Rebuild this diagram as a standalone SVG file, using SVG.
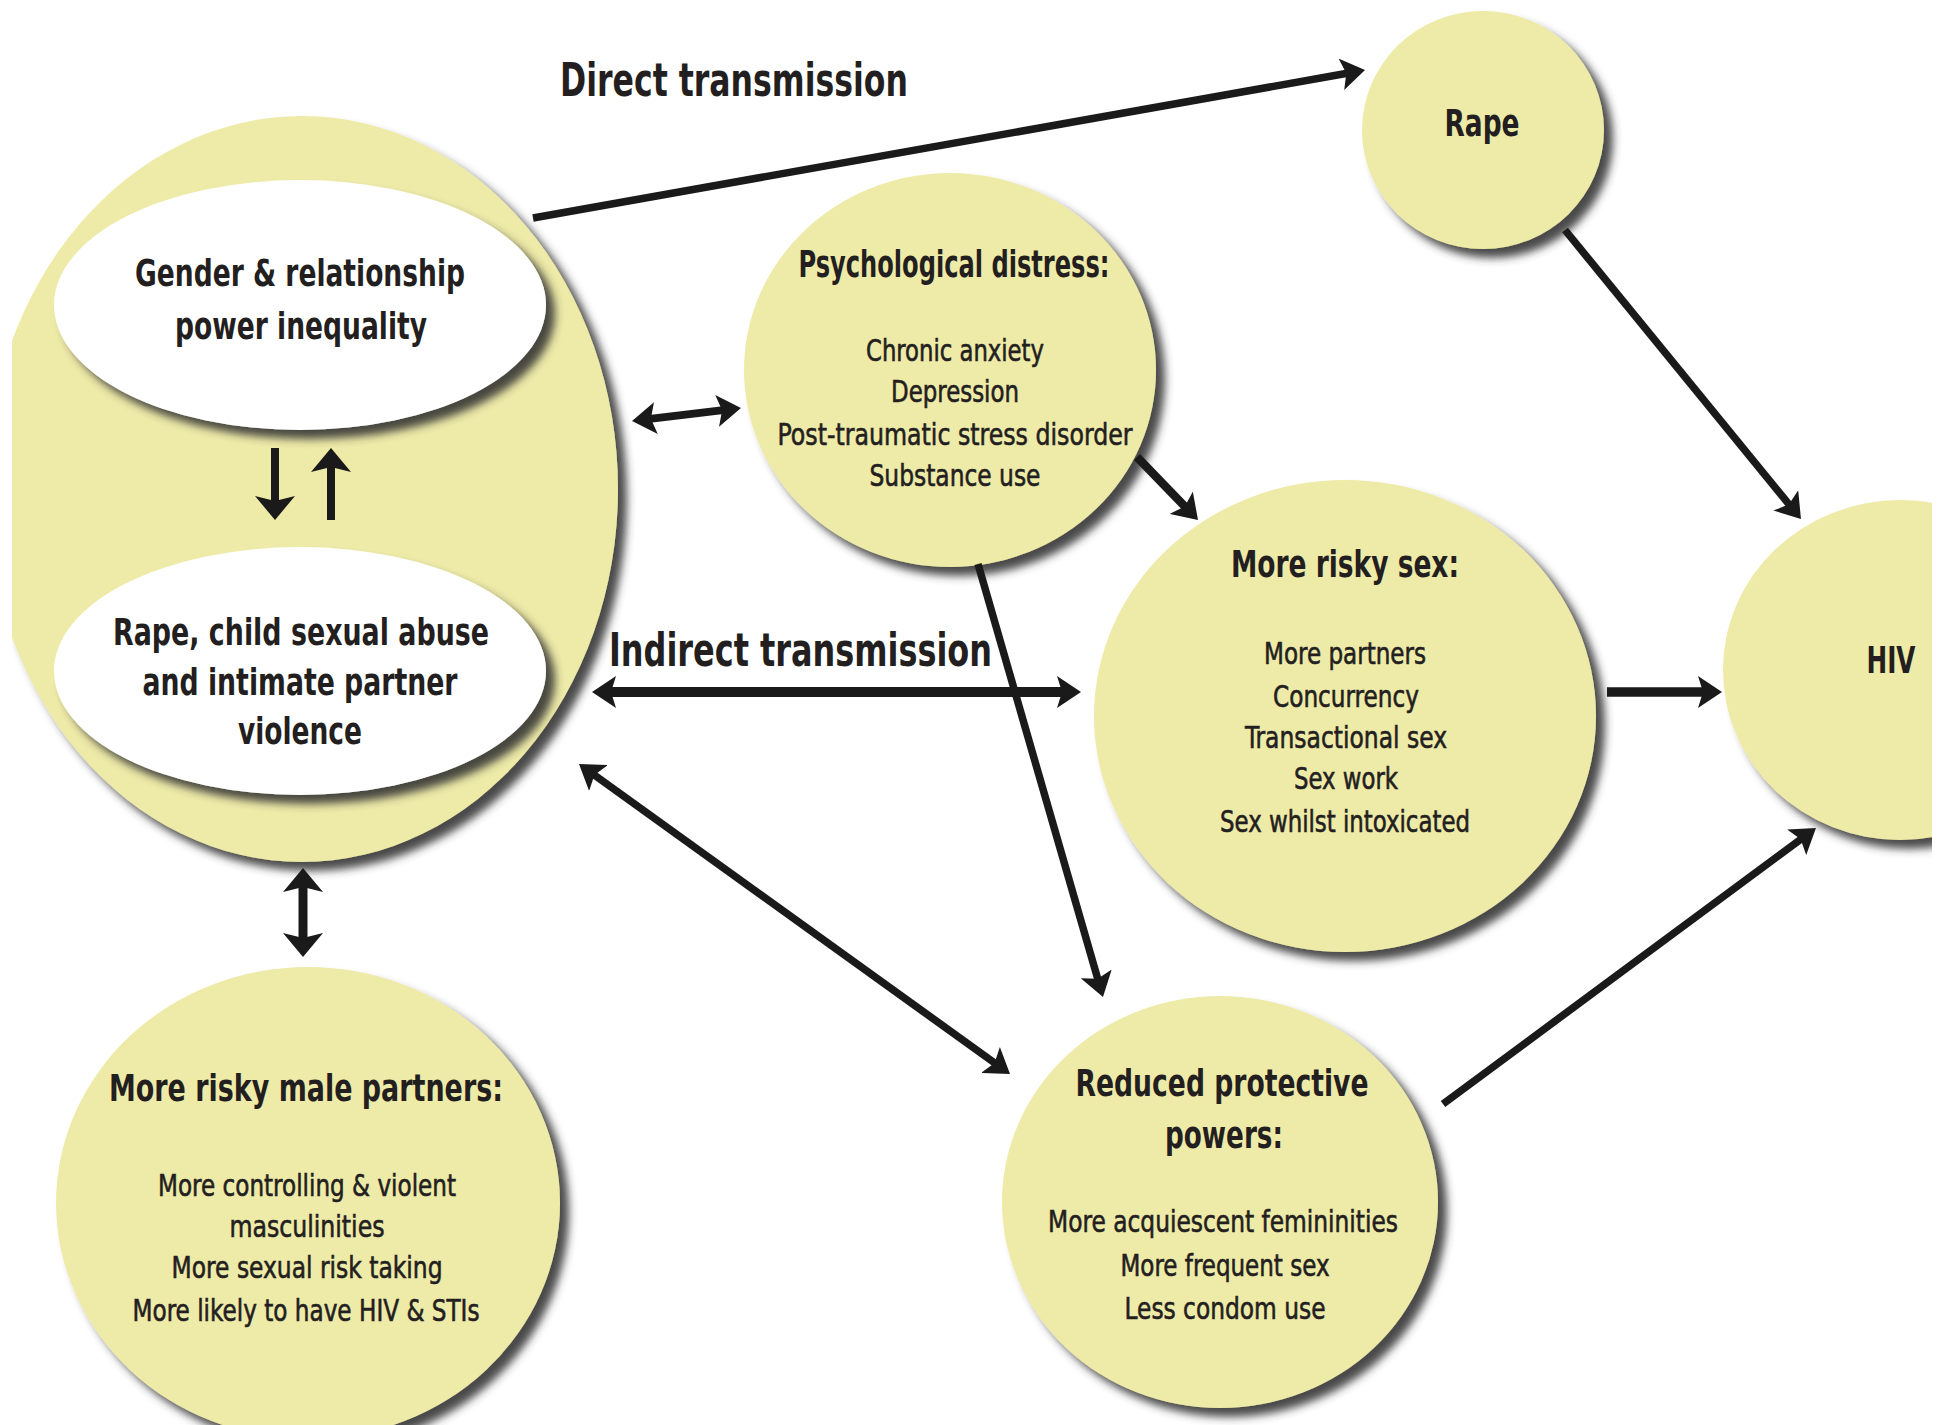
<svg xmlns="http://www.w3.org/2000/svg" width="1941" height="1425" viewBox="0 0 1941 1425">
<style>
.y{fill:#eeeaa8}
.w{fill:#ffffff}
.h{font-family:"Liberation Sans Narrow","DejaVu Sans Condensed","Liberation Sans",sans-serif;font-weight:bold;font-size:38px;fill:#231f20;text-anchor:middle}
.b{font-family:"Liberation Sans Narrow","DejaVu Sans Condensed","Liberation Sans",sans-serif;font-weight:normal;font-size:31px;fill:#231f20;stroke:#231f20;stroke-width:0.6;text-anchor:middle}
.t{font-family:"Liberation Sans Narrow","DejaVu Sans Condensed","Liberation Sans",sans-serif;font-weight:bold;font-size:46px;fill:#231f20}
.c{fill:none;stroke:#1a1a1a;stroke-width:7.5}
</style>
<defs>
<filter id="sh" x="-10%" y="-10%" width="125%" height="125%">
<feGaussianBlur in="SourceAlpha" stdDeviation="4"/>
<feOffset dx="9" dy="9" result="o"/>
<feFlood flood-color="#333333" flood-opacity="0.88"/>
<feComposite in2="o" operator="in"/>
<feMerge><feMergeNode/><feMergeNode in="SourceGraphic"/></feMerge>
</filter>
<clipPath id="clipL"><rect x="12" y="0" width="1000" height="1000"/></clipPath>
<clipPath id="clipR"><rect x="1600" y="300" width="332" height="700"/></clipPath>
<marker id="ah" markerUnits="userSpaceOnUse" viewBox="0 0 24 32" markerWidth="24" markerHeight="32" refX="6" refY="16" orient="auto-start-reverse">
<path d="M0,0 L24,16 L0,32 L5,16 z" fill="#1a1a1a"/>
</marker>
<marker id="ahw" markerUnits="userSpaceOnUse" viewBox="0 0 24 40" markerWidth="24" markerHeight="40" refX="6" refY="20" orient="auto-start-reverse">
<path d="M0,0 L24,20 L0,40 L5,20 z" fill="#1a1a1a"/>
</marker>
</defs>
<rect width="1941" height="1425" fill="#ffffff"/>

<g id="node-violence-context">
<g clip-path="url(#clipL)"><ellipse class="y" cx="302" cy="489" rx="316" ry="373" filter="url(#sh)"/></g>
<g id="node-gender">
<ellipse class="w" cx="300" cy="305" rx="246" ry="125" filter="url(#sh)"/>
<text class="h" x="300" y="286" textLength="330" lengthAdjust="spacingAndGlyphs">Gender &amp; relationship</text>
<text class="h" x="301" y="339" textLength="252" lengthAdjust="spacingAndGlyphs">power inequality</text>
</g>
<g id="node-rape-abuse">
<ellipse class="w" cx="300" cy="671" rx="246" ry="124" filter="url(#sh)"/>
<text class="h" x="301" y="645" textLength="376" lengthAdjust="spacingAndGlyphs">Rape, child sexual abuse</text>
<text class="h" x="300" y="695" textLength="315" lengthAdjust="spacingAndGlyphs">and intimate partner</text>
<text class="h" x="300" y="744" textLength="124" lengthAdjust="spacingAndGlyphs">violence</text>
</g>
</g>

<g id="node-rape">
<ellipse class="y" cx="1483" cy="130" rx="121" ry="119" filter="url(#sh)"/>
<text class="h" x="1482" y="136" textLength="75" lengthAdjust="spacingAndGlyphs">Rape</text>
</g>

<g id="node-psych">
<ellipse class="y" cx="950" cy="370" rx="206" ry="197" filter="url(#sh)"/>
<text class="h" x="954" y="277" textLength="311" lengthAdjust="spacingAndGlyphs">Psychological distress:</text>
<text class="b" x="955" y="361" textLength="178" lengthAdjust="spacingAndGlyphs">Chronic anxiety</text>
<text class="b" x="955" y="402" textLength="128" lengthAdjust="spacingAndGlyphs">Depression</text>
<text class="b" x="955" y="445" textLength="355" lengthAdjust="spacingAndGlyphs">Post-traumatic stress disorder</text>
<text class="b" x="955" y="486" textLength="171" lengthAdjust="spacingAndGlyphs">Substance use</text>
</g>

<g id="node-risky-sex">
<ellipse class="y" cx="1345" cy="716" rx="251" ry="236" filter="url(#sh)"/>
<text class="h" x="1345" y="577" textLength="228" lengthAdjust="spacingAndGlyphs">More risky sex:</text>
<text class="b" x="1345" y="664" textLength="162" lengthAdjust="spacingAndGlyphs">More partners</text>
<text class="b" x="1346" y="707" textLength="146" lengthAdjust="spacingAndGlyphs">Concurrency</text>
<text class="b" x="1346" y="748" textLength="202" lengthAdjust="spacingAndGlyphs">Transactional sex</text>
<text class="b" x="1346" y="789" textLength="104" lengthAdjust="spacingAndGlyphs">Sex work</text>
<text class="b" x="1345" y="832" textLength="250" lengthAdjust="spacingAndGlyphs">Sex whilst intoxicated</text>
</g>

<g id="node-hiv">
<g clip-path="url(#clipR)"><ellipse class="y" cx="1900" cy="670" rx="177" ry="170" filter="url(#sh)"/></g>
<text class="h" x="1891" y="673" textLength="49" lengthAdjust="spacingAndGlyphs">HIV</text>
</g>

<g id="node-reduced">
<ellipse class="y" cx="1220" cy="1202" rx="218" ry="206" filter="url(#sh)"/>
<text class="h" x="1222" y="1096" textLength="293" lengthAdjust="spacingAndGlyphs">Reduced protective</text>
<text class="h" x="1224" y="1148" textLength="118" lengthAdjust="spacingAndGlyphs">powers:</text>
<text class="b" x="1223" y="1232" textLength="350" lengthAdjust="spacingAndGlyphs">More acquiescent femininities</text>
<text class="b" x="1225" y="1276" textLength="209" lengthAdjust="spacingAndGlyphs">More frequent sex</text>
<text class="b" x="1225" y="1319" textLength="201" lengthAdjust="spacingAndGlyphs">Less condom use</text>
</g>

<g id="node-male">
<ellipse class="y" cx="308" cy="1203" rx="252" ry="236" filter="url(#sh)"/>
<text class="h" x="306" y="1101" textLength="394" lengthAdjust="spacingAndGlyphs">More risky male partners:</text>
<text class="b" x="307" y="1196" textLength="298" lengthAdjust="spacingAndGlyphs">More controlling &amp; violent</text>
<text class="b" x="307" y="1237" textLength="155" lengthAdjust="spacingAndGlyphs">masculinities</text>
<text class="b" x="307" y="1278" textLength="271" lengthAdjust="spacingAndGlyphs">More sexual risk taking</text>
<text class="b" x="306" y="1321" textLength="347" lengthAdjust="spacingAndGlyphs">More likely to have HIV &amp; STIs</text>
</g>

<g id="labels">
<text class="t" x="560" y="96" textLength="348" lengthAdjust="spacingAndGlyphs">Direct transmission</text>
<text class="t" x="609" y="666" textLength="383" lengthAdjust="spacingAndGlyphs">Indirect transmission</text>
</g>

<g id="connectors">
<path class="c" d="M533,218 L1347.3,73.2" marker-end="url(#ah)"/>
<path class="c" d="M1565,230 L1789.6,505.1" marker-end="url(#ah)"/>
<path class="c" style="stroke-width:8.5" d="M1137,457 L1185.5,507.1" marker-end="url(#ah)"/>
<path class="c" d="M978,564 L1098,979.7" marker-end="url(#ah)"/>
<path class="c" style="stroke-width:9.5" d="M1607,692 L1704,692" marker-end="url(#ah)"/>
<path class="c" d="M1443,1104 L1801.5,838.7" marker-end="url(#ah)"/>
<path class="c" style="stroke-width:10" d="M610,692 L1063,692" marker-start="url(#ah)" marker-end="url(#ah)"/>
<path class="c" d="M593.6,774.5 L995.4,1063.5" marker-start="url(#ah)" marker-end="url(#ah)"/>
<path class="c" style="stroke-width:8" d="M649.9,418.9 L723.1,410.1" marker-start="url(#ah)" marker-end="url(#ah)"/>
<path class="c" style="stroke-width:9" d="M303,886 L303,939" marker-start="url(#ahw)" marker-end="url(#ahw)"/>
<path class="c" style="stroke-width:8" d="M275,448 L275,502" marker-end="url(#ahw)"/>
<path class="c" style="stroke-width:8" d="M331,520 L331,466" marker-end="url(#ahw)"/>
</g>
</svg>
